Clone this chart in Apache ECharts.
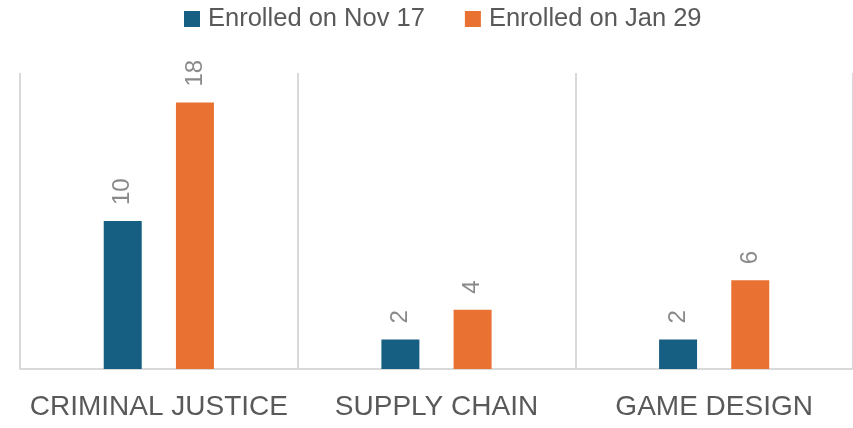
<!DOCTYPE html>
<html>
<head>
<meta charset="utf-8">
<script src="https://cdn.jsdelivr.net/npm/echarts@6/dist/echarts.min.js"></script>
<style>html,body{margin:0;padding:0;background:#fff;}#c{width:853px;height:428px;}</style>
</head>
<body>
<div id="c"></div>
<script>
const categories = ['CRIMINAL JUSTICE', 'SUPPLY CHAIN', 'GAME DESIGN'];
const seriesNames = ['Enrolled on Nov 17', 'Enrolled on Jan 29'];
const novValues = [10, 2, 2];
const janValues = [18, 4, 6];

const chart = echarts.init(document.getElementById('c'));
const labelStyle = {
  show: true, position: 'top', rotate: 90, align: 'left', verticalAlign: 'middle',
  distance: 16, color: '#8a8a8a', fontSize: 24, fontFamily: 'Liberation Sans'
};
chart.setOption({
  animation: false,
  textStyle: { fontFamily: 'Liberation Sans' },
  legend: {
    top: 1, left: 179, itemWidth: 16, itemHeight: 16, itemGap: 40,
    icon: 'rect',
    textStyle: { color: '#595959', fontSize: 25.5, fontFamily: 'Liberation Sans', padding: [0, 0, 0, 3] },
    data: seriesNames
  },
  grid: { left: 20, right: 0, top: 73, bottom: 59, containLabel: false },
  xAxis: {
    type: 'category', data: categories,
    axisLine: { lineStyle: { color: '#d9d9d9', width: 2 } },
    axisTick: { show: false },
    splitLine: { show: true, interval: 0, lineStyle: { color: '#d9d9d9', width: 2 } },
    axisLabel: { interval: 0, hideOverlap: false, color: '#595959', fontSize: 28, margin: 24, fontFamily: 'Liberation Sans' }
  },
  yAxis: {
    type: 'value', min: 0, max: 20,
    show: false, splitLine: { show: false }
  },
  series: [
    { name: seriesNames[0], type: 'bar', data: novValues, barWidth: 38, barGap: '90%',
      itemStyle: { color: '#175f82' }, label: labelStyle },
    { name: seriesNames[1], type: 'bar', data: janValues, barWidth: 38, barGap: '90%',
      itemStyle: { color: '#e97132' }, label: labelStyle }
  ]
});
</script>
</body>
</html>
